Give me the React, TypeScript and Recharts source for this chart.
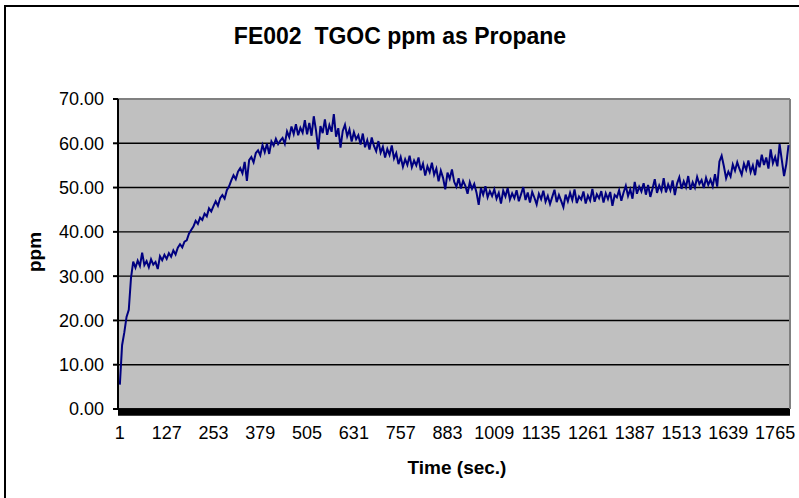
import React from 'react';
import { LineChart, Line, XAxis, YAxis, CartesianGrid, ReferenceLine, ReferenceArea } from 'recharts';

const chartTitle = 'FE002  TGOC ppm as Propane';
const xAxisTitle = 'Time (sec.)';
const yAxisTitle = 'ppm';

// Time (sec.) of the first sample and spacing between the sampled readings
const FIRST_SEC = 1;
const STEP_SEC = 6;

// ppm readings, one every STEP_SEC seconds
const ppmValues: number[] = [
  5.5, 14.4, 17.3, 20.8, 22.4, 29.6, 33.3, 31.9, 33.5, 32.3,
  35.3, 32.5, 33.4, 32.0, 33.8, 32.6, 33.2, 31.6, 34.5, 33.6,
  34.8, 33.9, 35.2, 34.4, 35.8, 34.9, 36.4, 37.2, 36.5, 37.8,
  38.1, 39.6, 40.4, 41.2, 42.5, 41.8, 43.2, 42.7, 44.1, 43.5,
  45.3, 44.6, 45.8, 46.9, 45.9, 47.6, 48.3, 47.5, 49.4, 50.3,
  51.6, 52.8, 51.9, 53.6, 54.4, 53.2, 55.8, 51.5, 56.2, 56.9,
  55.7, 57.8, 58.4, 57.3, 59.6, 58.0, 59.9, 57.6, 60.4, 59.5,
  61.0, 59.8, 60.6, 61.2, 59.9, 62.7, 61.4, 63.8, 62.1, 64.3,
  61.8, 63.5, 62.4, 65.2, 62.0, 64.6, 61.7, 66.1, 62.9, 58.6,
  63.9, 62.3, 65.4, 61.9, 64.1, 62.6, 66.6, 61.5, 63.4, 59.0,
  62.8, 64.2, 61.6, 63.1, 60.4, 62.5, 60.9, 61.8, 59.7, 62.2,
  59.1, 60.7, 58.6, 61.3, 59.4, 58.2, 60.5, 57.9, 59.2, 56.8,
  58.7, 57.4, 59.5, 56.6, 57.8, 55.3, 56.9, 54.7, 56.4, 55.1,
  57.2, 54.6, 56.1, 55.0, 56.8, 53.9, 55.4, 52.7, 54.8, 53.5,
  55.6, 52.9, 54.3, 51.4, 53.8, 52.2, 49.6, 53.4, 52.0, 54.1,
  51.3, 50.2, 52.1, 49.8, 51.5, 50.4, 48.6, 51.2, 49.7, 50.8,
  48.9, 46.1, 49.9, 48.4, 50.3, 47.8, 49.2, 48.1, 49.6, 47.5,
  48.8, 46.4, 49.3, 48.0, 49.9, 47.3, 48.7, 47.6, 49.4, 46.9,
  48.5, 50.1, 47.2, 48.9, 46.6, 49.0, 47.7, 46.2, 48.6, 47.4,
  49.3, 46.8, 48.1, 46.3, 47.9, 49.5, 46.7, 48.3, 47.0, 45.6,
  48.4, 46.9, 48.8, 47.2, 49.6, 46.5, 48.0, 47.3, 49.1, 46.4,
  48.2, 47.1, 49.7, 46.8, 48.5, 47.6, 49.2, 46.6, 48.7, 47.4,
  49.0, 45.9, 48.3, 47.8, 49.4, 47.0, 48.9, 50.4, 48.1, 49.6,
  47.5, 51.3, 48.6, 50.2, 49.1, 51.0, 48.4, 50.6, 47.9, 49.8,
  51.9, 48.8, 50.5, 49.3, 52.1, 48.9, 50.7, 49.4, 51.6, 48.3,
  50.9, 52.3, 49.7, 51.4, 50.1, 52.6, 49.5, 51.2, 50.0, 52.4,
  50.8, 51.7, 49.9, 52.2, 50.6, 51.8, 50.3, 53.0, 50.2, 55.9,
  57.2, 54.8, 52.1, 53.6, 52.5, 55.2, 53.8, 55.7, 54.2, 52.9,
  55.4, 54.0, 56.1, 53.5, 55.0, 52.8, 56.3, 54.6, 57.4, 55.1,
  56.8, 54.3, 58.6, 55.5, 56.9, 54.8, 59.8, 56.2, 52.6, 55.3,
  59.6,
];

const xTickLabels = [1, 127, 253, 379, 505, 631, 757, 883, 1009, 1135, 1261, 1387, 1513, 1639, 1765];
const yTickValues = [0, 10, 20, 30, 40, 50, 60, 70];

const data = ppmValues.map((ppm, i) => ({ time: FIRST_SEC + i * STEP_SEC, ppm }));

const FONT = '"Liberation Sans", Arial, Helvetica, sans-serif';
const W = 799;
const H = 498;
const X_DOMAIN: [number, number] = [-4, 1805];

export default function App() {
  return (
    <div style={{ position: 'absolute', left: 0, top: 0, width: W, height: H, overflow: 'hidden', background: '#fff' }}>
      <div
        style={{
          position: 'absolute',
          left: 4,
          top: 5,
          width: 900,
          height: 600,
          border: '2px solid #000',
          boxSizing: 'border-box',
        }}
      />
      <div style={{ position: 'absolute', left: 0, top: 0 }}>
        <LineChart
          width={W}
          height={H}
          data={data}
          margin={{ top: 99, right: 9, left: 58, bottom: 49 }}
          style={{ fontFamily: FONT }}
        >
          <CartesianGrid fill="#C0C0C0" stroke="#000" strokeWidth={1.4} vertical={false} />
          <XAxis
            dataKey="time"
            type="number"
            domain={X_DOMAIN}
            ticks={xTickLabels}
            interval={0}
            height={40}
            axisLine={false}
            tickLine={false}
            tickSize={0}
            tickMargin={17}
            tick={{ fill: '#000', fontSize: 18, fontFamily: FONT }}
          />
          <YAxis
            type="number"
            domain={[0, 70]}
            ticks={yTickValues}
            interval={0}
            width={60}
            axisLine={{ stroke: '#000', strokeWidth: 2 }}
            tickLine={{ stroke: '#000', strokeWidth: 2 }}
            tickSize={5}
            tickMargin={9}
            tickFormatter={(v: number) => v.toFixed(2)}
            tick={{ fill: '#000', fontSize: 18, fontFamily: FONT }}
          />
          <ReferenceLine y={70} stroke="#808080" strokeWidth={2} />
          <ReferenceLine x={X_DOMAIN[1]} stroke="#808080" strokeWidth={2} />
          <ReferenceArea y1={-1.5} y2={0.15} fill="#000" fillOpacity={1} stroke="none" ifOverflow="visible" />
          <Line
            type="linear"
            dataKey="ppm"
            stroke="#000080"
            strokeWidth={2}
            dot={false}
            activeDot={false}
            isAnimationActive={false}
          />
        </LineChart>
      </div>
      <svg
        width={W}
        height={H}
        style={{ position: 'absolute', left: 0, top: 0, pointerEvents: 'none' }}
      >
        <text x={400} y={44} textAnchor="middle" fontFamily={FONT} fontWeight="bold" fontSize={23} fill="#000" style={{ whiteSpace: 'pre' }}>
          {chartTitle}
        </text>
        <text x={457} y={474} textAnchor="middle" fontFamily={FONT} fontWeight="bold" fontSize={19} fill="#000">
          {xAxisTitle}
        </text>
        <text
          x={0}
          y={0}
          transform="translate(41,252) rotate(-90)"
          textAnchor="middle"
          fontFamily={FONT}
          fontWeight="bold"
          fontSize={19}
          fill="#000"
        >
          {yAxisTitle}
        </text>
      </svg>
    </div>
  );
}
